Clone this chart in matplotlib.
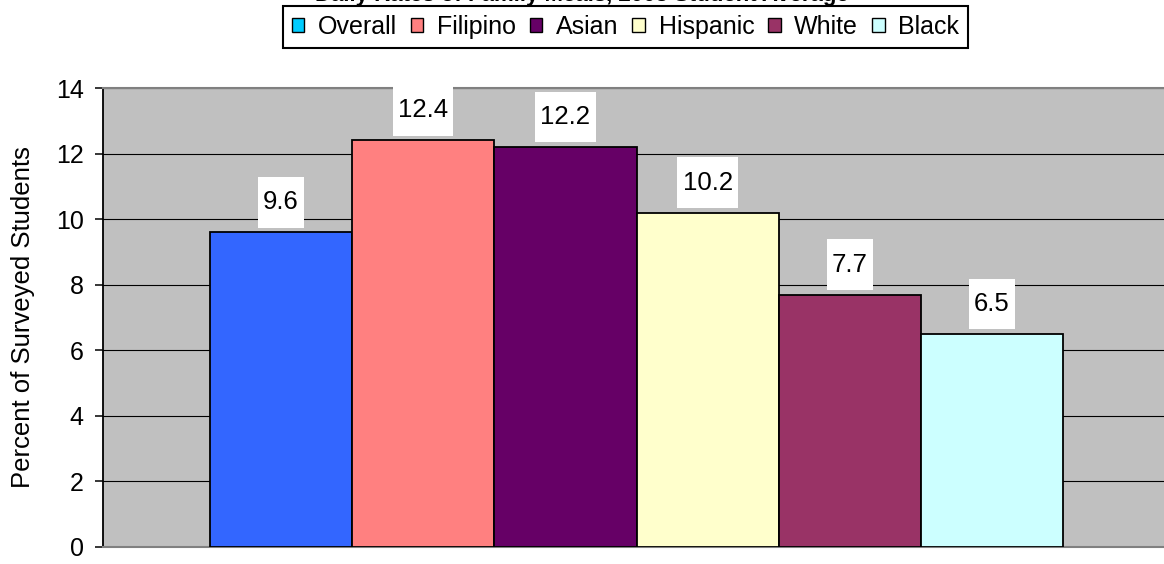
import matplotlib
matplotlib.use("Agg")
import matplotlib.pyplot as plt
from matplotlib.patches import Patch

plt.rcParams['font.family'] = ['Liberation Sans', 'DejaVu Sans']

# ---- data ----
groups = ["Overall", "Filipino", "Asian", "Hispanic", "White", "Black"]
values = [9.6, 12.4, 12.2, 10.2, 7.7, 6.5]
bar_colors = ["#3366FF", "#FF8080", "#660066", "#FFFFCC", "#993366", "#CCFFFF"]
legend_colors = ["#00CCFF", "#FF8080", "#660066", "#FFFFCC", "#993366", "#CCFFFF"]
yticks = [0, 2, 4, 6, 8, 10, 12, 14]
ylabel = "Percent of Surveyed Students"
title = "Daily Rates of Family Meals, 2003 Student Average"

W, H = 1164, 564
fig = plt.figure(figsize=(W / 100, H / 100), dpi=100)
ax = fig.add_axes([103 / W, 1 - 547 / H, (W - 103) / W, (547 - 88) / H])
ax.set_facecolor("#C0C0C0")

x = list(range(len(groups)))
bars = ax.bar(x, values, width=1.0, color=bar_colors, edgecolor="black",
              linewidth=1.3, zorder=3)

ax.set_xlim(-1.2526, 6.210)
ax.set_ylim(0, 14)
ax.set_yticks(yticks)
ax.set_yticklabels([str(t) for t in yticks], fontsize=18)
ax.set_xticks([])
ax.yaxis.grid(True, color="black", linewidth=0.8, zorder=1)
ax.set_axisbelow(True)
ax.tick_params(axis="y", direction="out", length=6, width=1.1, pad=8,
               colors="black")

for s in ["top", "bottom", "right"]:
    ax.spines[s].set_color("#808080")
    ax.spines[s].set_linewidth(1.5)
ax.spines["right"].set_visible(False)
ax.spines["left"].set_color("black")
ax.spines["left"].set_linewidth(1.3)

ax.set_ylabel(ylabel, fontsize=18.5)
ax.yaxis.label.set_va("center")
ax.yaxis.set_label_coords(-(103 - 23) / (W - 103), 0.5)

for xi, v in zip(x, values):
    ax.annotate(f"{v}", xy=(xi, v), xytext=(0, 18), textcoords="offset pixels",
                ha="center", va="bottom", fontsize=18.5, zorder=5,
                bbox=dict(boxstyle="square,pad=0.2", facecolor="white",
                          edgecolor="none", mutation_aspect=2.6))

handles = [Patch(facecolor=c, edgecolor="black", linewidth=1.0) for c in legend_colors]
leg = ax.legend(handles, groups, ncol=6, loc="upper center",
                bbox_to_anchor=(625.5 / W, 1 - 6 / H), bbox_transform=fig.transFigure,
                frameon=True, fancybox=False, edgecolor="black", framealpha=1,
                handlelength=0.5, handleheight=0.5, handletextpad=0.55,
                columnspacing=0.55, borderpad=0.35, borderaxespad=0,
                fontsize=18)
leg.get_frame().set_linewidth(1.5)

fig.text(0.5, 1 - 0.5 / H, title, ha="center", va="baseline", fontsize=16,
         fontweight="bold")

fig.savefig("out.png", dpi=100)
